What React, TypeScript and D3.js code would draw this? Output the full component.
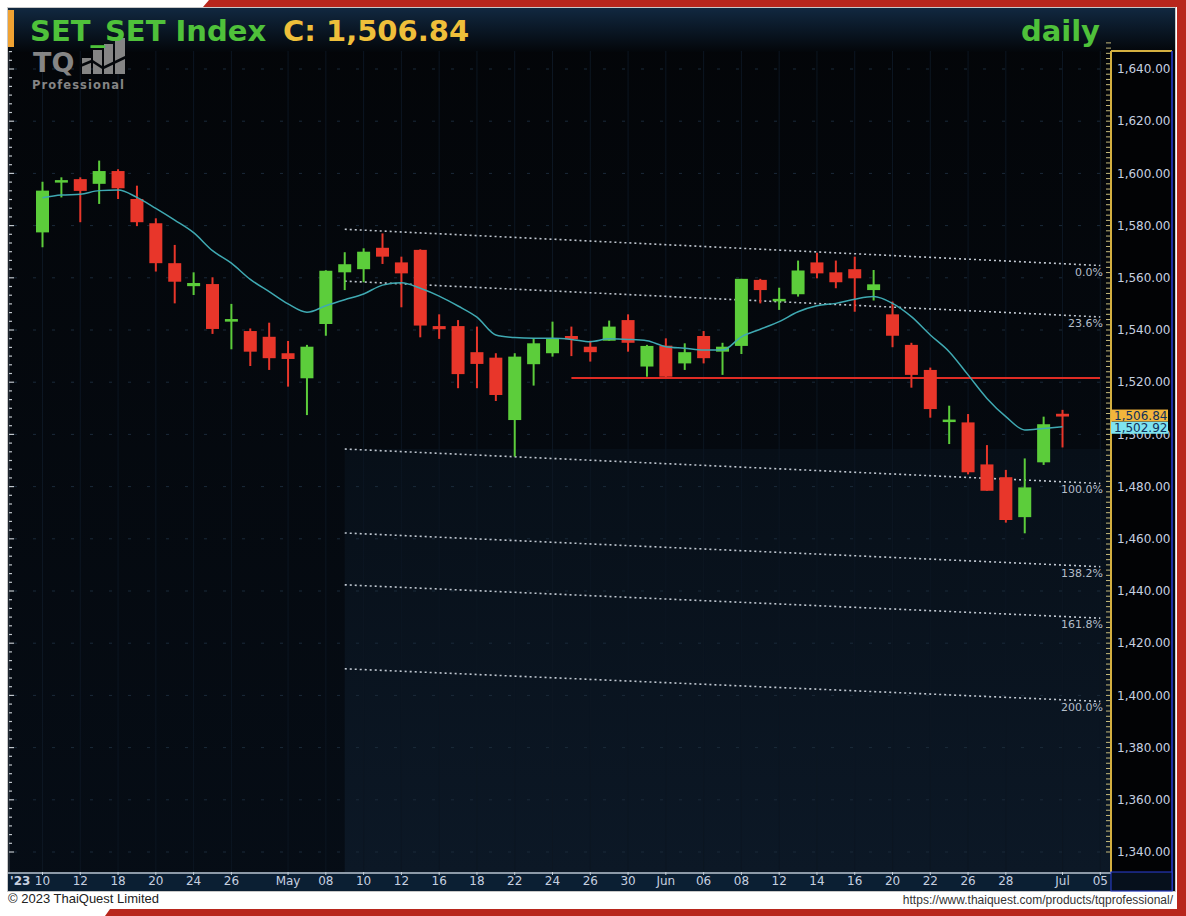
import React from "react";
import * as d3 from "d3";

// ---------------- DATA ----------------
const opens = [1577.4,1596.6,1597.8,1596.0,1600.9,1590.2,1580.9,1565.6,1556.8,1557.6,1543.2,1539.6,1537.4,1531.1,1521.5,1542.3,1562.1,1563.3,1571.5,1565.9,1570.7,1541.5,1541.5,1531.5,1529.4,1505.5,1526.9,1531.1,1537.7,1533.6,1535.9,1543.8,1526.0,1534.0,1527.2,1537.7,1531.7,1533.9,1559.2,1551.1,1553.7,1565.9,1562.1,1563.3,1555.3,1546.0,1534.3,1524.7,1504.9,1504.6,1488.5,1483.6,1468.3,1489.3,1507.9];
const highs = [1596.8,1598.5,1598.5,1604.9,1601.6,1595.3,1582.8,1572.6,1562.1,1560.2,1550.0,1540.6,1542.8,1535.8,1534.3,1562.9,1569.8,1571.3,1577.0,1568.1,1570.9,1546.0,1543.8,1541.3,1531.1,1531.1,1536.8,1543.2,1541.3,1535.9,1543.6,1546.0,1534.3,1536.8,1534.9,1539.6,1535.1,1559.6,1559.6,1556.2,1566.6,1569.6,1566.6,1568.1,1563.0,1550.9,1535.1,1525.6,1511.0,1507.8,1495.9,1486.4,1490.8,1506.8,1509.4];
const lows = [1571.7,1590.8,1581.3,1588.3,1590.2,1579.8,1562.4,1550.2,1553.4,1538.5,1532.6,1526.2,1524.7,1518.3,1507.4,1537.8,1555.3,1558.3,1565.3,1548.7,1537.2,1536.6,1517.7,1517.7,1512.8,1491.5,1518.7,1529.8,1530.0,1527.9,1535.9,1531.7,1522.1,1521.9,1524.7,1527.2,1522.8,1530.8,1550.2,1547.7,1552.8,1559.8,1556.0,1547.0,1551.3,1533.4,1517.9,1506.4,1496.3,1484.7,1478.4,1466.2,1462.1,1488.3,1495.0];
const closes = [1593.4,1597.3,1593.3,1600.9,1594.3,1581.3,1565.6,1558.5,1558.0,1540.4,1544.2,1531.7,1529.2,1528.9,1533.6,1562.7,1565.2,1570.0,1568.1,1561.7,1541.7,1540.3,1523.1,1527.0,1515.1,1529.8,1534.9,1536.8,1536.4,1531.5,1541.3,1535.1,1533.9,1522.1,1531.5,1529.2,1533.6,1559.6,1555.3,1551.8,1562.8,1561.7,1558.3,1559.8,1557.5,1537.8,1522.8,1509.7,1505.5,1485.5,1478.4,1467.2,1479.7,1503.9,1506.84];
const maValues = [1590.7,1591.7,1592.0,1593.4,1593.6,1590.8,1586.6,1582.1,1577.3,1570.4,1565.6,1559.4,1554.7,1550.0,1546.8,1549.3,1551.6,1553.8,1557.2,1558.1,1556.0,1553.0,1549.2,1544.9,1538.1,1537.1,1536.8,1536.8,1536.4,1535.5,1536.6,1536.4,1535.9,1533.6,1533.0,1532.3,1532.3,1537.4,1540.3,1543.2,1547.0,1549.3,1550.2,1551.8,1552.8,1550.2,1545.1,1538.1,1531.7,1522.8,1513.8,1506.8,1501.7,1502.3,1502.92];

const xTickIdx = [0,2,4,6,8,10,13,15,17,19,21,23,25,27,29,31,33,35,37,39,41,43,45,47,49,51,54,56];
const xTickLabels = ["10","12","18","20","24","26","May","08","10","12","16","18","22","24","26","30","Jun","06","08","12","14","16","20","22","26","28","Jul","05"];
const yTicks = [1340,1360,1380,1400,1420,1440,1460,1480,1500,1520,1540,1560,1580,1600,1620,1640];

const fibLevels = [0, 23.6, 100, 138.2, 161.8, 200];
const fibLabels = ["0.0%", "23.6%", "100.0%", "138.2%", "161.8%", "200.0%"];
const fibStart = { idx: 16, p0: 1578.6, p100: 1494.4 };
const fibEnd = { idx: 56, p0: 1564.7, p100: 1481.2 };

const supportLevel = 1521.6;
const supportStartIdx = 28;
const lastClose = 1506.84;
const lastMA = 1502.92;

// ---------------- LAYOUT ----------------
const W = 1186, H = 916;
const plotL = 8, plotR = 1111, plotT = 51, plotB = 872;
const axisR = 1172;

const x = d3.scaleLinear().domain([0, 56]).range([42.5, 1100.3]);
const y = d3.scaleLinear().domain([1340, 1640]).range([852, 69]);

const GREEN = "#5ccd3b";
const RED = "#e8362a";
const FONT = "DejaVu Sans, Verdana, sans-serif";

const fmt = d3.format(",.2f");

export default function App() {
  const bodyW = 13;
  const maLine = d3.line<number>().x((_, i) => x(i)).y((d) => y(d)).curve(d3.curveMonotoneX)(maValues) || "";

  const fibLines = fibLevels.map((lv, k) => {
    const ps = fibStart.p0 + (fibStart.p100 - fibStart.p0) * lv / 100;
    const pe = fibEnd.p0 + (fibEnd.p100 - fibEnd.p0) * lv / 100;
    return { x1: x(fibStart.idx), y1: y(ps), x2: x(fibEnd.idx), y2: y(pe), label: fibLabels[k] };
  });

  const rightMinor = d3.range(1340, 1652, 2);
  const leftMinor = d3.range(0, 16 * 6 + 1).map((k) => 1340 + k * (20 / 6));

  return (
    <svg width={W} height={H} style={{ position: "absolute", left: 0, top: 0, display: "block" }} fontFamily={FONT}>
      <defs>
        <linearGradient id="titleGrad" x1="0" y1="0" x2="0" y2="1">
          <stop offset="0" stopColor="#112840" />
          <stop offset="1" stopColor="#03060a" />
        </linearGradient>
        <linearGradient id="bgGrad" x1="0" y1="0" x2="0" y2="1">
          <stop offset="0" stopColor="#030508" />
          <stop offset="1" stopColor="#060d16" />
        </linearGradient>
        <linearGradient id="shadeGrad" x1="0" y1="0" x2="0" y2="1">
          <stop offset="0" stopColor="#070f18" />
          <stop offset="1" stopColor="#0c1826" />
        </linearGradient>
      </defs>

      {/* page */}
      <rect x={0} y={0} width={W} height={H} fill="#ffffff" />
      <polygon points="203,7 209,0 1186,0 1186,7" fill="#b8261c" />
      <rect x={1177} y={0} width={9} height={H} fill="#b8261c" />
      <polygon points="105,916 110,909 1186,909 1186,916" fill="#b8261c" />

      {/* chart panel */}
      <rect x={7.5} y={7.5} width={1168} height={884} fill="url(#bgGrad)" stroke="#c8c8c8" strokeWidth={1} />
      <rect x={8} y={8} width={1167} height={44} fill="url(#titleGrad)" />

      {/* shaded projection area */}
      <rect x={x(fibStart.idx)} y={fibLines[2].y1} width={plotR - x(fibStart.idx)} height={plotB - fibLines[2].y1} fill="url(#shadeGrad)" />

      {/* grid */}
      {xTickIdx.map((i) => (
        <line key={"vg" + i} x1={x(i)} x2={x(i)} y1={plotT} y2={plotB} stroke="#0c1622" strokeWidth={1} />
      ))}
      {yTicks.map((v) => (
        <line key={"hg" + v} x1={plotL + 6} x2={plotR} y1={y(v)} y2={y(v)} stroke="#1b2a3a" strokeWidth={1} strokeDasharray="3,16" />
      ))}

      {/* left mini ticks */}
      <line x1={9} x2={9} y1={plotT} y2={plotB} stroke="#3a4450" strokeWidth={1} />
      {leftMinor.map((v, k) => (
        <line key={"lm" + k} x1={9} x2={k % 6 === 0 ? 14 : 12} y1={y(v)} y2={y(v)} stroke="#c0c6cc" strokeWidth={1.2} />
      ))}

      {/* logo */}
      <g fill="#8c8c8c" opacity={0.95}>
        <text x={33} y={72} fontSize={27} fontWeight="bold" fontFamily={FONT}>TQ</text>
        <rect x={82} y={58} width={9} height={16} />
        <rect x={93} y={50} width={9} height={24} />
        <rect x={104} y={44} width={9} height={30} />
        <rect x={115} y={38} width={10} height={36} />
        <polyline points="80,66 92,61 103,68 126,57" fill="none" stroke="#05080c" strokeWidth={2.5} />
        <text x={32} y={89} fontSize={11.5} fontWeight="bold" fontFamily={FONT} textLength={92} lengthAdjust="spacing">Professional</text>
      </g>

      {/* fib lines */}
      {fibLines.map((f, k) => (
        <g key={"fib" + k}>
          <line x1={f.x1} y1={f.y1} x2={f.x2} y2={f.y2} stroke="#d6dde6" strokeWidth={1.6} strokeDasharray="2,3" opacity={0.9} />
          <text x={1103} y={f.y2 + 10} textAnchor="end" fontSize={11} fill="#b4bec9">{f.label}</text>
        </g>
      ))}

      {/* support line */}
      <line x1={x(supportStartIdx)} x2={1100} y1={y(supportLevel)} y2={y(supportLevel)} stroke="#e02c24" strokeWidth={2} />

      {/* candles */}
      {closes.map((c, i) => {
        const o = opens[i];
        const up = c >= o;
        const col = up ? GREEN : RED;
        const top = y(Math.max(o, c));
        const bot = y(Math.min(o, c));
        const h = Math.max(2.5, bot - top);
        const cx = x(i);
        return (
          <g key={"c" + i}>
            <line x1={cx} x2={cx} y1={y(highs[i])} y2={y(lows[i])} stroke={col} strokeWidth={2} />
            <rect x={cx - bodyW / 2} y={(top + bot) / 2 - h / 2} width={bodyW} height={h} fill={col} />
          </g>
        );
      })}

      {/* moving average */}
      <path d={maLine} fill="none" stroke="#3fa9b2" strokeWidth={1.5} />

      {/* y axis panel */}
      <rect x={plotR} y={plotT} width={axisR - plotR} height={plotB - plotT} fill="#020305" />
      {rightMinor.map((v) => (
        <line key={"rm" + v} x1={plotR - 5} x2={plotR} y1={y(v)} y2={y(v)} stroke="#c8bb7a" strokeWidth={1} />
      ))}
      <line x1={plotR} x2={plotR} y1={plotT} y2={plotB} stroke="#d4b040" strokeWidth={2} />
      <line x1={plotR} x2={axisR} y1={plotT} y2={plotT} stroke="#d4b040" strokeWidth={2} />
      <line x1={axisR} x2={axisR} y1={plotT} y2={891} stroke="#2a3ed8" strokeWidth={1.5} />
      {yTicks.map((v) => (
        <text key={"yl" + v} x={1117} y={y(v)} dy="0.35em" fontSize={12} fill="#c6d0e0">{fmt(v)}</text>
      ))}
      {/* last price tags */}
      <rect x={plotR} y={y(lastClose) - 7} width={57} height={12} fill="#f2b53c" />
      <text x={1114} y={y(lastClose) - 1} dy="0.35em" fontSize={12} fill="#10305a">{fmt(lastClose)}</text>
      <rect x={plotR} y={y(lastMA) - 5} width={57} height={12} fill="#7ee3ef" />
      <text x={1114} y={y(lastMA) + 1} dy="0.35em" fontSize={12} fill="#10305a">{fmt(lastMA)}</text>

      {/* x axis band */}
      <rect x={plotL} y={plotB} width={plotR - plotL} height={891 - plotB} fill="#0b1f33" />
      <line x1={plotL} x2={plotR} y1={plotB + 1} y2={plotB + 1} stroke="#8d9aa8" strokeWidth={2} />
      <rect x={plotR} y={plotB} width={axisR - plotR} height={891 - plotB} fill="#06101c" stroke="#2a3ed8" strokeWidth={1} />
      {xTickIdx.map((i) => (
        <line key={"xt" + i} x1={x(i)} x2={x(i)} y1={plotB} y2={plotB + 3} stroke="#c8d2dc" strokeWidth={1} />
      ))}
      <text x={10} y={881} dy="0.35em" fontSize={12} fontWeight="bold" fill="#c6d0e0">'23</text>
      {xTickIdx.map((i, k) => (
        <text key={"xl" + i} x={x(i)} y={881} dy="0.35em" textAnchor="middle" fontSize={12} fill="#c6d0e0">{xTickLabels[k]}</text>
      ))}

      {/* title */}
      <rect x={8} y={10} width={6} height={37} fill="#f0a232" />
      <text x={30} y={41} fontSize={29} fontWeight="bold" fill={"#4fc13a"}>SET_SET Index</text>
      <text x={283} y={41} fontSize={29} fontWeight="bold" fill={"#efbf3a"}>C: {fmt(lastClose)}</text>
      <text x={1100} y={41} textAnchor="end" fontSize={29} fontWeight="bold" fill={"#4fc13a"}>daily</text>

      {/* footer */}
      <text x={8} y={903} fontSize={13} fill="#222" fontFamily="Liberation Sans, Arial, sans-serif">© 2023 ThaiQuest Limited</text>
      <text x={1173} y={904} textAnchor="end" fontSize={12} fill="#333" fontFamily="Liberation Sans, Arial, sans-serif">https://www.thaiquest.com/products/tqprofessional/</text>
    </svg>
  );
}
